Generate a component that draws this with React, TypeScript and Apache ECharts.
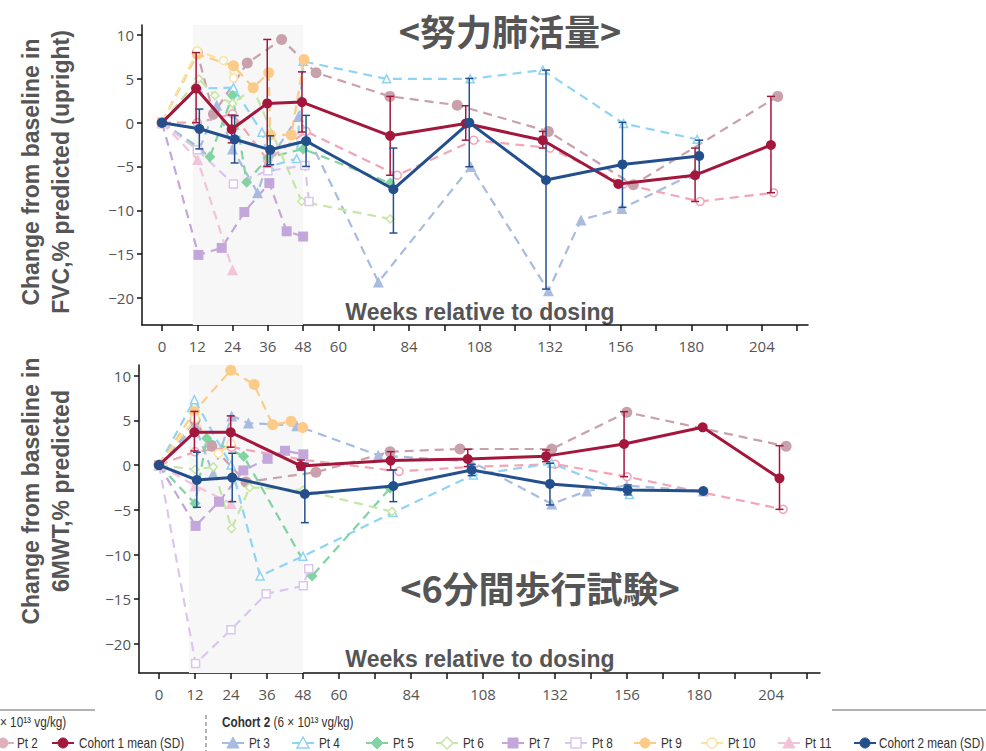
import React, { useEffect, useRef } from "react";
import * as echarts from "echarts";

// ---------- tick values ----------
const xTickWeeks = [0, 12, 24, 36, 48, 60, 72, 84, 96, 108, 120, 132, 144, 156, 168, 180, 192, 204, 216];
const xLabelWeeks = [0, 12, 24, 36, 48, 60, 84, 108, 132, 156, 180, 204];
const yTickVals = [-20, -15, -10, -5, 0, 5, 10];

// ---------- FVC (top) ----------
const pt1Fvc = [[0, 0], [12, 0], [24, 1.0], [36, -4.3], [49, -1.0], [80, -6.0], [106, -2.0], [132, -2.9], [157, -7.0], [183, -9.0], [208, -8.0]];
const pt2Fvc = [[0, 0], [12, 8.0], [17.5, 1.0], [29, 6.8], [40.7, 9.5], [52.4, 5.7], [77.5, 3.0], [100.4, 2.0], [131.4, -1.0], [160.3, -7.1], [209.4, 3.0]];
const pt3Fvc = [[0, 0], [12.9, -2.9], [18.6, 2.0], [24, -3.0], [32.5, -8.0], [36, -4.5], [46.4, 0.7], [73.6, -18.2], [105, -5.0], [131.4, -19.2], [142.5, -11.1], [156.4, -9.8], [181, -5.8]];
const pt4Fvc = [[0, 0], [12.3, 3.9], [24.3, 4.0], [34, -1.1], [36.7, -5.0], [45.8, -4.1], [48, 7.0], [76.4, 5.0], [104.8, 5.0], [129.5, 6.0], [157, -0.1], [182, -1.9]];
const pt5Fvc = [[0, 0], [16.3, -3.9], [24, 3.1], [28.8, -6.8], [36, -4.0], [48, -3.0], [77.6, -6.9]];
const pt6Fvc = [[0, 0], [12.5, 5.0], [18, 3.1], [24, 2.2], [31, 3.9], [47.5, -9.0], [77.6, -11.0]];
const pt7Fvc = [[0, 0], [12.4, -15.1], [20.3, -14.3], [28, -10.2], [36.5, -6.9], [42.4, -12.4], [48, -13.0]];
const pt8Fvc = [[0, 0], [12, -3.1], [24.3, -7.0], [36, -5.5], [48.6, -4.9], [50, -9.0]];
const pt9Fvc = [[0, 0], [12, 7.8], [24.3, 6.5], [31, 4.0], [36.3, 5.7], [36.8, -1.4], [44, -1.4], [48.3, 7.2]];
const pt10Fvc = [[0, 0], [12, 8.2], [20.9, 7.1], [24.3, 5.1]];
const pt11Fvc = [[0, 0], [12.1, -4.2], [24, -16.8]];
const c1Fvc = [[0, 0], [11.6, 3.9], [23.7, -0.75], [35.8, 2.2], [47.6, 2.35], [77.6, -1.5], [103.3, -0.1], [129.5, -2.0], [155.2, -7.0], [181.3, -6.0], [207.1, -2.55]];
const c1FvcSd = [[11.6, 0, 8.0], [23.7, -2.3, 0.87], [35.8, -5.0, 9.5], [47.6, -1.07, 5.8], [77.6, -6.0, 3.0], [103.3, -2.0, 1.93], [129.5, -2.9, -1.0], [181.3, -9.0, -2.9], [207.1, -8.0, 3.0]];
const c2Fvc = [[0, 0], [12.7, -0.7], [24.7, -1.9], [36.8, -3.1], [49, -2.1], [78.7, -7.6], [104.5, 0], [130.6, -6.55], [156.6, -4.77], [182.7, -3.8]];
const c2FvcSd = [[12.7, -3.0, 1.55], [24.7, -4.6, 0.8], [36.8, -4.8, -1.5], [49, -5.0, 0.83], [78.7, -12.6, -2.9], [104.5, -5.03, 5.05], [130.6, -19.0, 6.0], [156.6, -9.67, 0.03], [182.7, -5.7, -2.0]];

// ---------- 6MWT (bottom) ----------
const pt1Mwt = [[0, 0], [12, 1.5], [24.2, 2.0], [47.9, 0.6], [80, -0.7], [104, -0.2], [132, 0.1], [156, -1.3], [208, -4.95]];
const pt2Mwt = [[0, 0], [12, 5.0], [17.6, 2.1], [29, -1.9], [52.3, -0.8], [77, 1.5], [100.3, 1.8], [130.9, 1.8], [155.9, 5.9], [209, 2.1]];
const pt3Mwt = [[0, 0], [12, 4.4], [18, -1.0], [24.2, 5.5], [29.8, 4.7], [45.9, 4.4], [73.1, 1.1], [104, 0.4], [130.9, -4.35], [142.6, -2.9], [155.9, -2.3], [181.4, -2.9]];
const pt4Mwt = [[0, 0], [11.8, 7.3], [24, 0.0], [33.7, -12.4], [48, -10.2], [78, -5.3], [104.8, -1.1], [130.9, 0.2], [156.8, -3.3]];
const pt5Mwt = [[0, 0], [12, -4.3], [15.9, 3.0], [28.2, 1.0], [51, -12.4], [77, -2.6]];
const pt6Mwt = [[0, 0], [12, -0.5], [18.1, -0.2], [24.2, -7.1], [30.2, -2.5], [48, -2.8], [77.6, -5.2]];
const pt7Mwt = [[0, 0], [12.2, -6.8], [20, -4.1], [28.1, -0.6], [36.2, 0.7], [42, 1.6], [48.1, 1.2]];
const pt8Mwt = [[0, 0], [12.2, -22.2], [24, -18.4], [35.7, -14.4], [48.1, -13.5], [49.9, -11.6]];
const pt9Mwt = [[0, 0], [11.8, 6.0], [23.9, 10.6], [31.7, 9.0], [37.9, 4.5], [44, 4.9], [47.9, 4.2]];
const pt10Mwt = [[0, 0], [12, 5.2], [19.8, 1.3], [24, 2.4]];
const pt11Mwt = [[0, 0], [12, -2.3], [24, -4.3]];
const c1Mwt = [[0, 0], [11.8, 3.66], [23.9, 3.66], [47.3, -0.1], [77.2, 0.5], [102.9, 0.68], [129, 1.0], [155, 2.36], [181.2, 4.22], [206.8, -1.48]];
const c1MwtSd = [[11.8, 1.58, 6.0], [23.9, 2.0, 5.5], [47.3, -0.55, 0.57], [77.2, -0.55, 1.5], [102.9, -0.17, 1.76], [129, 0.38, 1.69], [155, -1.3, 5.97], [206.8, -4.95, 2.17]];
const c2Mwt = [[0, 0], [12.6, -1.67], [24.4, -1.4], [48.6, -3.23], [78.1, -2.34], [104.2, -0.55], [130.3, -2.11], [156.2, -2.78], [181.4, -2.9]];
const c2MwtSd = [[12.6, -4.72, 1.43], [24.4, -4.09, 1.32], [48.6, -6.44, 0.2], [78.1, -4.09, -0.55], [104.2, -1.18, 0.09], [130.3, -4.46, 0.2], [156.2, -3.34, -2.22]];

// ---------- styles ----------
const C1 = "#a3173c";
const C2 = "#23508d";
const patients = [
  { name: "Pt 1", color: "#f3a5b7", symbol: "circle", filled: false, fvc: pt1Fvc, mwt: pt1Mwt },
  { name: "Pt 2", color: "#c9a1ab", symbol: "circle", filled: true, fvc: pt2Fvc, mwt: pt2Mwt },
  { name: "Pt 3", color: "#a8bcdf", symbol: "triangle", filled: true, fvc: pt3Fvc, mwt: pt3Mwt },
  { name: "Pt 4", color: "#8fd4f5", symbol: "triangle", filled: false, fvc: pt4Fvc, mwt: pt4Mwt },
  { name: "Pt 5", color: "#80d4a2", symbol: "diamond", filled: true, fvc: pt5Fvc, mwt: pt5Mwt },
  { name: "Pt 6", color: "#c6e6a6", symbol: "diamond", filled: false, fvc: pt6Fvc, mwt: pt6Mwt },
  { name: "Pt 7", color: "#c3a7db", symbol: "rect", filled: true, fvc: pt7Fvc, mwt: pt7Mwt },
  { name: "Pt 8", color: "#dac6ef", symbol: "rect", filled: false, fvc: pt8Fvc, mwt: pt8Mwt },
  { name: "Pt 9", color: "#fccb87", symbol: "circle", filled: true, fvc: pt9Fvc, mwt: pt9Mwt },
  { name: "Pt 10", color: "#fde3a0", symbol: "circle", filled: false, fvc: pt10Fvc, mwt: pt10Mwt },
  { name: "Pt 11", color: "#f2c3d9", symbol: "triangle", filled: true, fvc: pt11Fvc, mwt: pt11Mwt },
];

const TICK_FONT = "'Open Sans', 'DejaVu Sans', sans-serif";
const BOLD_FONT = "'Liberation Sans', Arial, sans-serif";
const CJK_FONT = "'Noto Sans CJK JP', 'Noto Sans CJK SC', sans-serif";
const LEG_FONT = "'Liberation Sans Narrow', 'Liberation Sans', sans-serif";
const LEG_SCALE = 0.84;
const AXIS_COLOR = "#111";
const TEXT_GREY = "#555";

function xAxisCfg(gridIndex: number, min: number, max: number) {
  return {
    gridIndex,
    type: "value",
    min,
    max,
    axisLine: { show: true, onZero: false, lineStyle: { color: AXIS_COLOR, width: 1.5 } },
    axisTick: { show: true, length: 6, customValues: xTickWeeks, lineStyle: { color: AXIS_COLOR, width: 1.5 } },
    axisLabel: { customValues: xLabelWeeks, color: TEXT_GREY, fontSize: 15, margin: 13, fontFamily: TICK_FONT },
    splitLine: { show: false },
  };
}
function yAxisCfg(gridIndex: number, min: number, max: number) {
  return {
    gridIndex,
    type: "value",
    min,
    max,
    axisLine: { show: true, onZero: false, lineStyle: { color: AXIS_COLOR, width: 1.5 } },
    axisTick: { show: true, length: 5, customValues: yTickVals, lineStyle: { color: AXIS_COLOR, width: 1.5 } },
    axisLabel: {
      customValues: yTickVals,
      color: TEXT_GREY,
      fontSize: 15,
      margin: 8,
      fontFamily: TICK_FONT,
      formatter: (v: number) => String(v).replace("-", "\u2212"),
    },
    splitLine: { show: false },
  };
}

function patientSeries(p: any, data: number[][], axis: number, band?: number[]) {
  const s: any = {
    type: "line",
    name: p.name + (axis ? " 6MWT" : " FVC"),
    data,
    xAxisIndex: axis,
    yAxisIndex: axis,
    symbol: p.symbol,
    symbolSize: p.filled ? (p.symbol === "rect" ? 10 : 11) : 8,
    lineStyle: { color: p.color, width: 2.2, type: [9, 6] },
    itemStyle: p.filled ? { color: p.color } : { color: "#fff", borderColor: p.color, borderWidth: 1.5 },
    silent: true,
    z: 2,
  };
  if (band) {
    s.markArea = {
      silent: true,
      itemStyle: { color: "#f7f7f7" },
      data: [[{ xAxis: band[0] }, { xAxis: band[1] }]],
    };
  }
  return s;
}

function meanSeries(name: string, data: number[][], color: string, axis: number) {
  return {
    type: "line",
    name,
    data,
    xAxisIndex: axis,
    yAxisIndex: axis,
    symbol: "circle",
    symbolSize: 10,
    lineStyle: { color, width: 3 },
    itemStyle: { color },
    silent: true,
    z: 6,
  };
}

function errorSeries(name: string, data: number[][], color: string, axis: number) {
  return {
    type: "custom",
    name,
    data,
    xAxisIndex: axis,
    yAxisIndex: axis,
    silent: true,
    z: 5,
    encode: { x: 0, y: [1, 2] },
    renderItem: (params: any, api: any) => {
      const x = api.value(0);
      const lo = api.value(1);
      const hi = api.value(2);
      const p1 = api.coord([x, hi]);
      const p2 = api.coord([x, lo]);
      const w = 4;
      const st = { stroke: color, lineWidth: 1.5 };
      return {
        type: "group",
        children: [
          { type: "line", shape: { x1: p1[0], y1: p1[1], x2: p2[0], y2: p2[1] }, style: st },
          { type: "line", shape: { x1: p1[0] - w, y1: p1[1], x2: p1[0] + w, y2: p1[1] }, style: st },
          { type: "line", shape: { x1: p2[0] - w, y1: p2[1], x2: p2[0] + w, y2: p2[1] }, style: st },
        ],
      };
    },
  };
}

// ---------- legend graphics ----------
function legendMarker(cx: number, cy: number, color: string, symbol: string, filled: boolean) {
  const style = filled ? { fill: color, stroke: color, lineWidth: 1 } : { fill: "#fff", stroke: color, lineWidth: 1.5 };
  const els: any[] = [
    { type: "line", shape: { x1: cx - 11, y1: cy, x2: cx + 11, y2: cy }, style: { stroke: color, lineWidth: 2 } },
  ];
  if (symbol === "circle") els.push({ type: "circle", shape: { cx, cy, r: 5 }, style });
  else if (symbol === "triangle")
    els.push({ type: "polygon", shape: { points: [[cx, cy - 6], [cx + 6, cy + 5], [cx - 6, cy + 5]] }, style });
  else if (symbol === "diamond")
    els.push({ type: "polygon", shape: { points: [[cx, cy - 6], [cx + 6, cy], [cx, cy + 6], [cx - 6, cy]] }, style });
  else els.push({ type: "rect", shape: { x: cx - 5, y: cy - 5, width: 10, height: 10 }, style });
  return els;
}

function legText(text: string, x: number, y: number, rich?: any) {
  return {
    type: "text", x, y, scaleX: LEG_SCALE,
    style: { text, font: `14px ${LEG_FONT}`, fill: "#333", verticalAlign: "middle", rich },
  };
}

const legendCohort2X = [233, 303, 377, 447, 513, 576, 645, 712, 789];

function buildGraphics() {
  const g: any[] = [];
  const rowY = 743;
  // titles
  g.push({ type: "text", x: 510, y: 30, style: { text: "<努力肺活量>", font: `bold 36px ${CJK_FONT}`, fill: TEXT_GREY, align: "center", verticalAlign: "middle" } });
  g.push({ type: "text", x: 540, y: 587, style: { text: "<6分間歩行試験>", font: `bold 36px ${CJK_FONT}`, fill: TEXT_GREY, align: "center", verticalAlign: "middle" } });
  // x axis names
  g.push({ type: "text", x: 480, y: 312, style: { text: "Weeks relative to dosing", font: `bold 23px ${BOLD_FONT}`, fill: TEXT_GREY, align: "center", verticalAlign: "middle" } });
  g.push({ type: "text", x: 480, y: 659, style: { text: "Weeks relative to dosing", font: `bold 23px ${BOLD_FONT}`, fill: TEXT_GREY, align: "center", verticalAlign: "middle" } });
  // y axis names
  const yName = (text: string, x: number, y: number) => ({
    type: "text", x, y, rotation: Math.PI / 2,
    style: { text, font: `bold 23px ${BOLD_FONT}`, fill: TEXT_GREY, align: "center", verticalAlign: "middle" },
  });
  g.push(yName("Change from baseline in", 31, 172));
  g.push(yName("FVC,% predicted (upright)", 61, 172));
  g.push(yName("Change from baseline in", 31, 491));
  g.push(yName("6MWT,% predicted", 61, 491));
  // legend frame lines
  g.push({ type: "line", shape: { x1: 0, y1: 710, x2: 95, y2: 710 }, style: { stroke: "#999", lineWidth: 1.5 } });
  g.push({ type: "line", shape: { x1: 832, y1: 710, x2: 986, y2: 710 }, style: { stroke: "#999", lineWidth: 1.5 } });
  g.push({ type: "line", shape: { x1: 206, y1: 715, x2: 206, y2: 751 }, style: { stroke: "#666", lineWidth: 1, lineDash: [4, 3] } });
  // cohort headings
  g.push(legText("× 10¹³ vg/kg)", 0, 722));
  g.push(legText("{b|Cohort 2} (6 × 10¹³ vg/kg)", 222, 722, { b: { fontWeight: "bold", fontSize: 14, fontFamily: LEG_FONT, fill: "#333" } }));
  // cohort 1 items
  g.push(...legendMarker(3, rowY, "#dfb0bb", "circle", true));
  g.push(legText("Pt 2", 17, rowY));
  g.push(...legendMarker(63, rowY, C1, "circle", true));
  g.push(legText("Cohort 1 mean (SD)", 79, rowY));
  // cohort 2 items
  patients.slice(2).forEach((p, i) => {
    const cx = legendCohort2X[i];
    g.push(...legendMarker(cx, rowY, p.color, p.symbol, p.filled));
    g.push(legText(p.name, cx + 16, rowY));
  });
  g.push(...legendMarker(865, rowY, C2, "circle", true));
  g.push(legText("Cohort 2 mean (SD)", 879, rowY));
  return g;
}

function buildOption() {
  const series: any[] = [];
  patients.forEach((p, i) => {
    series.push(patientSeries(p, p.fvc, 0, i === 0 ? [10.5, 48] : undefined));
    series.push(patientSeries(p, p.mwt, 1, i === 0 ? [10, 48] : undefined));
  });
  series.push(errorSeries("C1 FVC SD", c1FvcSd, C1, 0));
  series.push(errorSeries("C2 FVC SD", c2FvcSd, C2, 0));
  series.push(meanSeries("Cohort 1 mean FVC", c1Fvc, C1, 0));
  series.push(meanSeries("Cohort 2 mean FVC", c2Fvc, C2, 0));
  series.push(errorSeries("C1 6MWT SD", c1MwtSd, C1, 1));
  series.push(errorSeries("C2 6MWT SD", c2MwtSd, C2, 1));
  series.push(meanSeries("Cohort 1 mean 6MWT", c1Mwt, C1, 1));
  series.push(meanSeries("Cohort 2 mean 6MWT", c2Mwt, C2, 1));

  return {
    animation: false,
    backgroundColor: "#fff",
    grid: [
      { left: 142, top: 25, width: 666, height: 300, containLabel: false, outerBoundsMode: "none" },
      { left: 139, top: 365, width: 681, height: 308, containLabel: false, outerBoundsMode: "none" },
    ],
    xAxis: [xAxisCfg(0, -6.8, 219.7), xAxisCfg(1, -6.67, 220.3)],
    yAxis: [yAxisCfg(0, -23.1, 11.15), yAxisCfg(1, -23.25, 11.19)],
    series,
    graphic: buildGraphics(),
  };
}

export default function App() {
  const ref = useRef<HTMLDivElement>(null);
  useEffect(() => {
    if (!ref.current) return;
    const chart = echarts.init(ref.current, null, { renderer: "svg" });
    chart.setOption(buildOption() as any);
    return () => chart.dispose();
  }, []);
  return <div ref={ref} style={{ position: "absolute", left: 0, top: 0, width: 986, height: 751, background: "#fff" }} />;
}
